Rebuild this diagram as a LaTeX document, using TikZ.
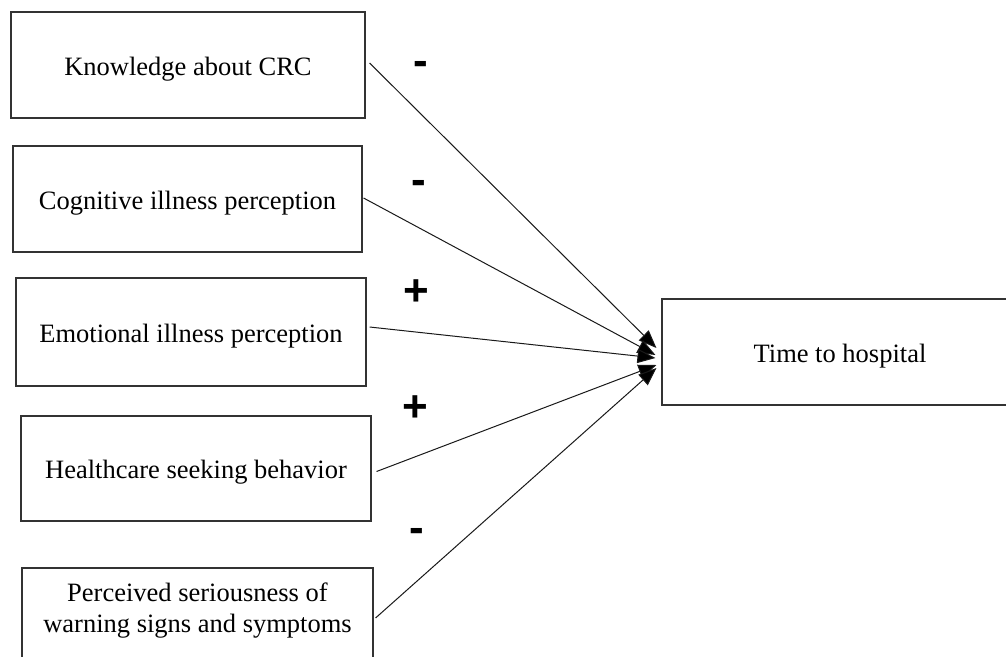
\documentclass[tikz,border=0pt]{standalone}
\usepackage{fontspec}
\setmainfont{Liberation Serif}
\newfontfamily\signfont{Liberation Sans}
\usetikzlibrary{arrows.meta,calc}
\begin{document}
\begin{tikzpicture}[x=1pt,y=-1pt,
  boxfont/.style={font=\fontsize{26.5}{31}\selectfont},
  factor/.style={draw=black!80, line width=1.1pt, minimum width=#1,
    minimum height=106pt, inner sep=0pt, boxfont,
    text height=26pt, text depth=6pt},
  link/.style={draw=black!90, line width=1pt,
    -{Triangle[length=18pt,width=14pt,fill=black]}},
  sign/.style={font=\signfont\bfseries\fontsize{44}{44}\selectfont,
    inner sep=0pt, anchor=base}]
\useasboundingbox (0,0) rectangle (1006,656);
\clip (0,0) rectangle (1006,656);

% factors on the left
\node[factor=354pt] (k) at (188,65) {Knowledge about CRC};
\node[factor=349pt] (c) at (187.5,199) {Cognitive illness perception};
\node[factor=350pt, minimum height=108pt] (e) at (191,332) {Emotional illness perception};
\node[factor=350pt, minimum height=105pt] (h) at (196,468.5) {Healthcare seeking behavior};
\node[factor=351pt] (p) at (197.5,621) {};
\node[boxfont, align=center, inner sep=0pt] (ptext) at (197.5,611)
  {Perceived seriousness of\\warning signs and symptoms};

% outcome
\node[factor=356pt] (t) at (840,352) {Time to hospital};

% paths
\draw[link] ($(k.east)+(4,-2)$) -- ($(t.west)+(-5,-4)$);
\draw[link] ($(c.east)+(1,-1)$) -- ($(t.west)+(-6,3)$);
\draw[link] ($(e.east)+(3,-5)$) -- ($(t.west)+(-6,6)$);
\draw[link] ($(h.east)+(5,3)$) -- ($(t.west)+(-5,13)$);
\draw[link] ($(p.east)+(2,-3)$) -- ($(t.west)+(-5,16)$);

% effect signs
\node[sign] (s1) at (421,75) {-};
\node[sign] (s2) at (419,194) {-};
\node[sign] (s3) at (416,305) {+};
\node[sign] (s4) at (415,421) {+};
\node[sign] (s5) at (417,542) {-};
\end{tikzpicture}
\end{document}
